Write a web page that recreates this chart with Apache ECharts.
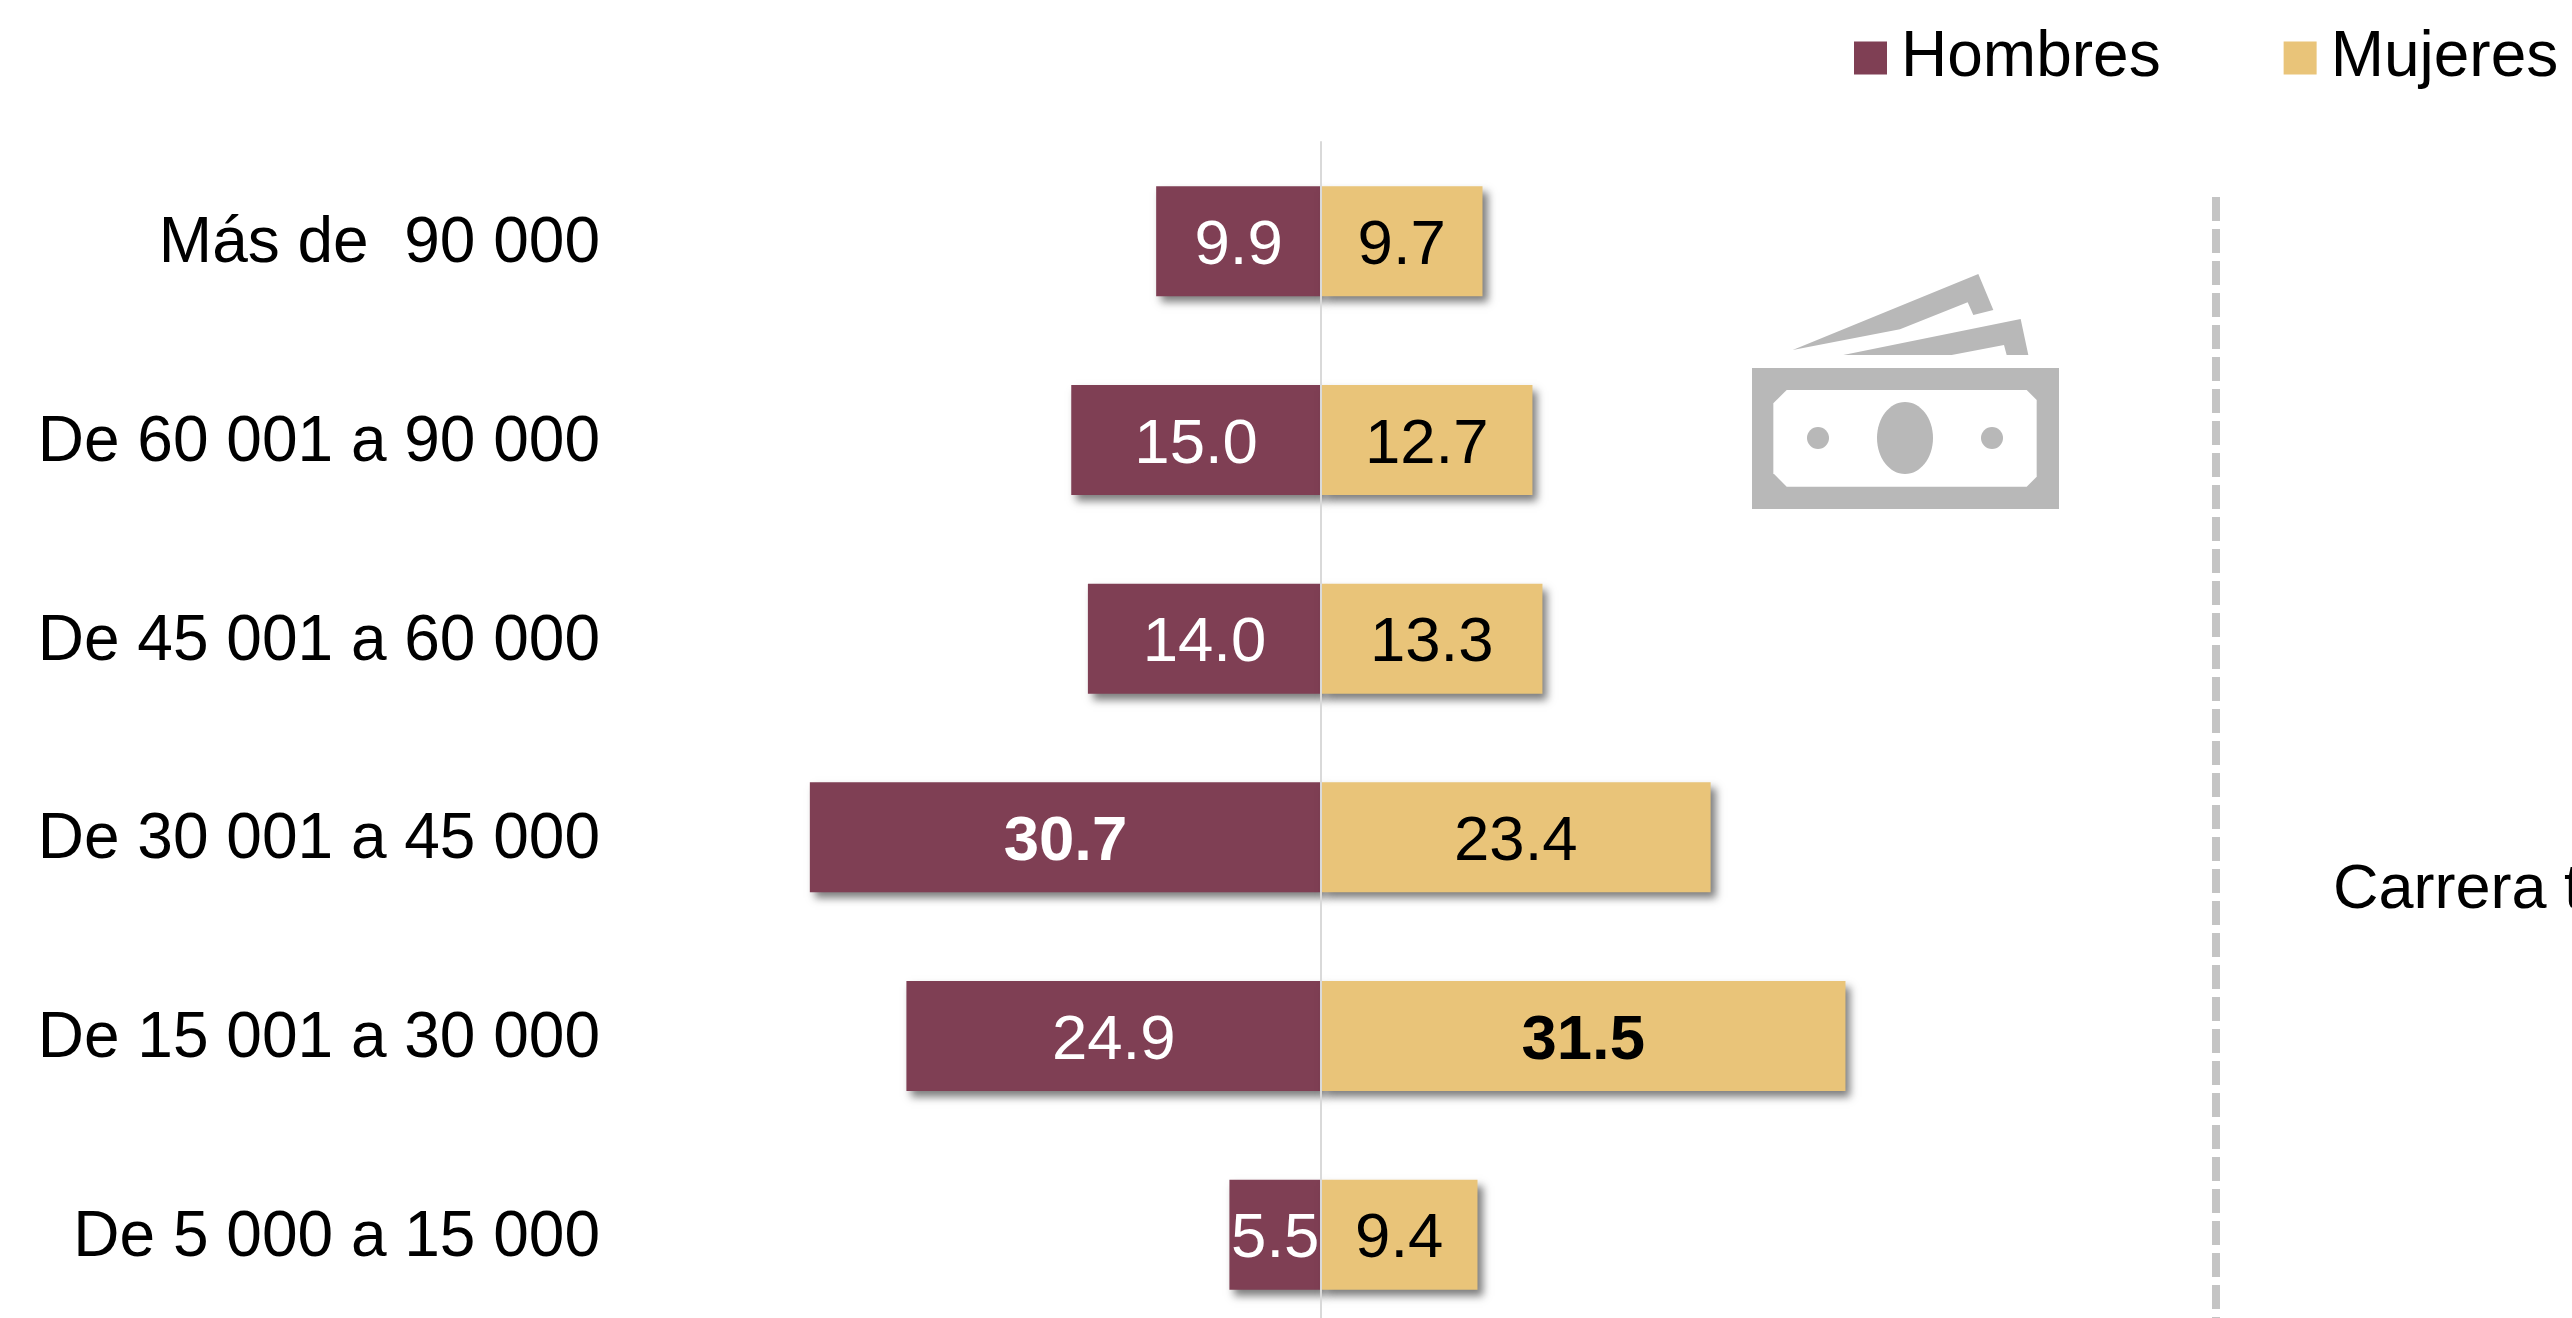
<!DOCTYPE html>
<html>
<head>
<meta charset="utf-8">
<style>html,body{margin:0;padding:0;background:#fff;overflow:hidden}#c{width:2572px;height:1318px}</style>
<script src="https://cdn.jsdelivr.net/npm/echarts@6/dist/echarts.min.js"></script>
</head>
<body>
<div id="c"></div>
<script>
const categories = ['Más de  90 000','De 60 001 a 90 000','De 45 001 a 60 000','De 30 001 a 45 000','De 15 001 a 30 000','De 5 000 a 15 000'];
const hombres = [9.9,15.0,14.0,30.7,24.9,5.5];
const mujeres = [9.7,12.7,13.3,23.4,31.5,9.4];
const boldHombres = [30.7];
const boldMujeres = [31.5];
const legendNames = ['Hombres','Mujeres'];

const FONT = '"Liberation Sans", Arial, sans-serif';
const GRAY = '#b8b8b8';
const MAROON = '#7f3f54';
const GOLD = '#e9c479';
const chart = echarts.init(document.getElementById('c'), null, {renderer:'canvas'});

function pts(list){ return list.map(p => [1700 + p[0]/3, 240 + p[1]/3]); }

const makeSeries = (name, values, color, textColor, bold, sign) => ({
  name, type:'bar', stack:'t', barWidth:110,
  data: values.map(v => ({
    value: sign*v,
    label: {fontWeight: bold.includes(v) ? 'bold' : 'normal'}
  })),
  itemStyle:{color, shadowColor:'rgba(40,40,40,0.6)', shadowBlur:8, shadowOffsetX:5, shadowOffsetY:6},
  label:{show:true, position:'inside', offset:[0,5], color:textColor, fontFamily:FONT, fontSize:63.5,
    formatter: p => Math.abs(p.value).toFixed(1)},
  emphasis:{disabled:true}
});

chart.setOption({
  animation:false,
  backgroundColor:'#fff',
  legend:{
    left:1854, top:26, itemWidth:33, itemHeight:33, itemGap:123, icon:'rect', padding:0,
    data:legendNames,
    textStyle:{fontFamily:FONT, fontSize:64, color:'#000', padding:[0,0,0,9]}
  },
  grid:{left:655, width:1332, top:142, height:1192, outerBoundsMode:'none', containLabel:false},
  xAxis:{type:'value', min:-40, max:40, interval:40, show:false},
  yAxis:{type:'category', inverse:true, data:categories, z:5,
    axisTick:{show:false},
    axisLine:{show:true, onZero:true, lineStyle:{color:'#d9d9d9', width:2}},
    axisLabel:{margin:55, color:'#000', fontFamily:FONT, fontSize:64, align:'right', verticalAlign:'middle',
      formatter: v => '{a|' + v + '}',
      rich:{a:{color:'#000', fontFamily:FONT, fontSize:64, padding:[7,0,0,0]}}}
  },
  series:[
    makeSeries(legendNames[0], hombres, MAROON, '#fff', boldHombres, -1),
    makeSeries(legendNames[1], mujeres, GOLD, '#000', boldMujeres, 1)
  ],
  graphic:[
    {type:'line', z:1, shape:{x1:2216,y1:197,x2:2216,y2:1318}, style:{stroke:'#c4c4c4', lineWidth:8, lineDash:[24,8]}},
    {type:'text', left:2333, top:859, style:{text:'Carrera t', fontFamily:FONT, fontSize:63, fill:'#000'}},
    {type:'rect', shape:{x:1752,y:368,width:307,height:141}, style:{fill:GRAY}},
    {type:'polygon', shape:{points:pts([[260,450],[980,450],[1010,480],[1010,710],[980,740],[260,740],[220,700],[220,490]])}, style:{fill:'#fff'}},
    {type:'ellipse', shape:{cx:1905,cy:438,rx:28,ry:36}, style:{fill:GRAY}},
    {type:'circle', shape:{cx:1818,cy:438,r:11}, style:{fill:GRAY}},
    {type:'circle', shape:{cx:1992,cy:438,r:11}, style:{fill:GRAY}},
    {type:'polygon', shape:{points:pts([[278,330],[835,102],[880,210],[820,225],[803,187],[600,268]])}, style:{fill:GRAY}},
    {type:'polygon', shape:{points:pts([[430,345],[962,237],[985,345],[920,345],[912,315],[755,345]])}, style:{fill:GRAY}}
  ]
});
</script>
</body>
</html>
